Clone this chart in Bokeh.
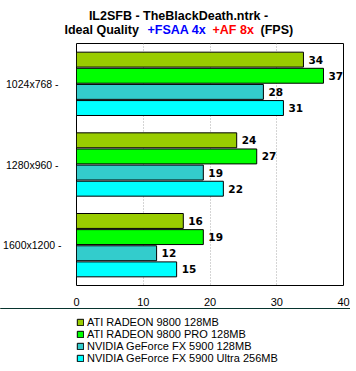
from bokeh.plotting import figure
from bokeh.layouts import column
from bokeh.models import (Range1d, FixedTicker, Legend, LegendItem, ColumnDataSource)
from bokeh.core.properties import value
from bokeh.embed import file_html
from bokeh.resources import INLINE

resolutions = ["1024x768", "1280x960", "1600x1200"]
series_names = ["ATI RADEON 9800 128MB", "ATI RADEON 9800 PRO 128MB",
                "NVIDIA GeForce FX 5900 128MB", "NVIDIA GeForce FX 5900 Ultra 256MB"]
colors = ["#99CC00", "#00FF00", "#33CCCC", "#00FFFF"]
radeon_9800 = [34, 24, 16]
radeon_9800_pro = [37, 27, 19]
fx_5900 = [28, 19, 12]
fx_5900_ultra = [31, 22, 15]
all_values = [radeon_9800, radeon_9800_pro, fx_5900, fx_5900_ultra]
x_ticks = [0, 10, 20, 30, 40]
title_line1 = "IL2SFB - TheBlackDeath.ntrk -"
title_line2 = [("Ideal Quality", "black"), ("+FSAA 4x", "#0000FF"),
               ("+AF 8x", "#FF0000"), ("(FPS)", "black")]

W = 350
font = "Liberation Sans"

# ---------- title strip ----------
TH = 41
tf = figure(width=W, height=TH, output_backend="svg", toolbar_location=None,
            x_range=Range1d(0, W), y_range=Range1d(TH, 0),
            x_axis_type=None, y_axis_type=None, min_border=0)
tf.frame_align = False
tf.outline_line_color = None
tf.grid.grid_line_color = None
tf.text(x=[178], y=[15], text=[title_line1], text_align="center", text_baseline="middle",
        text_font=value(font), text_font_style="bold", text_font_size="12.5px",
        text_color="black")
tsrc = ColumnDataSource(dict(x=[64, 147, 212, 260], y=[29] * 4,
                             t=[s for s, _ in title_line2], c=[c for _, c in title_line2]))
tf.text(x="x", y="y", text="t", text_color="c", source=tsrc, text_align="left",
        text_baseline="middle", text_font=value(font), text_font_style="bold",
        text_font_size="12.5px")

# ---------- main chart ----------
p = figure(width=W, height=267, output_backend="svg", toolbar_location=None,
           x_range=Range1d(0, 40), y_range=Range1d(3, 0),
           min_border_left=76, min_border_right=7, min_border_top=2, min_border_bottom=22)
p.frame_align = False
p.outline_line_color = "black"
p.outline_line_width = 1
p.background_fill_color = "white"
p.border_fill_color = "white"

for j, (vals, col) in enumerate(zip(all_values, colors)):
    ys = [g + 0.5 + (j - 1.5) * 0.2 for g in range(len(resolutions))]
    src = ColumnDataSource(dict(y=ys, right=vals, txt=[str(v) for v in vals]))
    p.hbar(y="y", right="right", left=0, height=0.185, source=src,
           fill_color=col, line_color="black", line_width=1)
    p.text(x="right", y="y", text="txt", source=src, x_offset=5,
           text_baseline="middle", text_align="left", text_font=value("DejaVu Sans"),
           text_font_style="bold", text_font_size="10.5px", text_color="black")

p.xaxis.ticker = FixedTicker(ticks=x_ticks)
p.xaxis.axis_line_color = None
p.xaxis.major_tick_line_color = None
p.xaxis.minor_tick_line_color = None
p.xaxis.major_label_standoff = 6
p.xaxis.major_label_text_font = font
p.xaxis.major_label_text_font_size = "11px"
p.xaxis.major_label_text_color = "black"

p.yaxis.ticker = FixedTicker(ticks=[g + 0.5 for g in range(len(resolutions))])
p.yaxis.major_label_overrides = {g + 0.5: (r + "  -" if len(r) < 9 else r + " -")
                                 for g, r in enumerate(resolutions)}
p.yaxis.axis_line_color = None
p.yaxis.major_tick_line_color = None
p.yaxis.minor_tick_line_color = None
p.yaxis.major_label_standoff = 9
p.yaxis.major_label_text_font = font
p.yaxis.major_label_text_font_size = "10.5px"
p.yaxis.major_label_text_color = "black"

p.ygrid.grid_line_color = None
p.xgrid.grid_line_color = "#AAAAAA"
p.xgrid.grid_line_dash = "1 2"
p.xgrid.grid_line_width = 1

# ---------- legend strip ----------
LH = 61
lf = figure(width=W, height=LH, output_backend="svg", toolbar_location=None,
            x_range=Range1d(0, 1), y_range=Range1d(0, 1),
            x_axis_type=None, y_axis_type=None, min_border=0)
lf.frame_align = False
lf.outline_line_color = None
lf.grid.grid_line_color = None
items = []
for name, col in zip(series_names, colors):
    # proxy glyph placed outside the visible range, only used for the legend swatch
    r = lf.hbar(y=[10], right=[1], left=0, height=1, fill_color=col,
                line_color="black", line_width=1)
    items.append(LegendItem(label=name, renderers=[r]))
legend = Legend(items=items, orientation="vertical", location=(76, 5),
                glyph_width=8, glyph_height=8, label_text_font=font,
                label_text_font_size="11px", label_height=12, label_text_line_height=1.05,
                label_text_color="black",
                spacing=0, padding=0, margin=0, label_standoff=3,
                border_line_color=None, background_fill_alpha=0)
lf.add_layout(legend, "center")

layout = column(tf, p, lf, spacing=0)
open("out.html", "w").write(file_html(layout, INLINE))
